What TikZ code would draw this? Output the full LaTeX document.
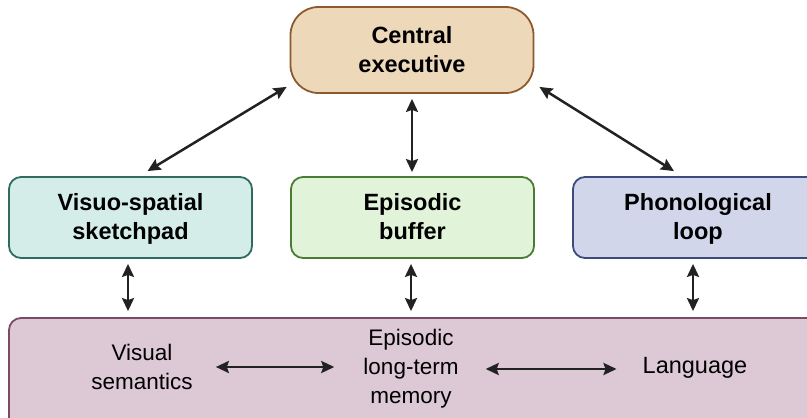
\documentclass[tikz,border=0pt]{standalone}
\usepackage{fontspec}
\setmainfont{Liberation Sans}
\usetikzlibrary{arrows.meta}
\definecolor{exefill}{HTML}{EDD8BA}
\definecolor{exeline}{HTML}{8C5A2E}
\definecolor{vsfill}{HTML}{D4EDE9}
\definecolor{vsline}{HTML}{2F6B5F}
\definecolor{ebfill}{HTML}{E1F3D9}
\definecolor{ebline}{HTML}{4B7C35}
\definecolor{plfill}{HTML}{D1D6EA}
\definecolor{plline}{HTML}{3B4B7B}
\definecolor{memfill}{HTML}{DDC9D6}
\definecolor{memline}{HTML}{7B4B65}
\definecolor{arrgrey}{HTML}{222222}
\def\tallline{\rule{0pt}{24pt}}

\begin{document}
\begin{tikzpicture}[x=1pt,y=-1pt,
  box/.style={draw, line width=1.8pt, rounded corners=12pt, align=center,
    font=\bfseries\fontsize{23.5}{29}\selectfont, minimum width=243pt,
    minimum height=81pt, inner sep=0pt},
  memtext/.style={align=center, font=\fontsize{22.5}{29}\selectfont, inner sep=0pt},
  link/.style={{Stealth[length=13pt,width=12pt,inset=2pt]}-{Stealth[length=13pt,width=12pt,inset=2pt]},
    line width=2.5pt, draw=arrgrey}]
				\useasboundingbox (0,0) rectangle (807,418);
				
				% boxes
				\node[box, draw=exeline, fill=exefill, rounded corners=28pt, minimum height=86pt] (exec) at (412,50) {\tallline Central\\executive\strut};
				\node[box, draw=vsline, fill=vsfill] (vs) at (130.5,217.5) {\tallline Visuo-spatial\\sketchpad\strut};
				\node[box, draw=ebline, fill=ebfill] (eb) at (412.5,217.5) {\tallline Episodic\\buffer\strut};
				\node[box, draw=plline, fill=plfill, minimum width=250pt] (pl) at (698,217.5) {\tallline Phonological\\loop\strut};
				\node[box, draw=memline, fill=memfill, minimum width=815pt, minimum height=112pt] (mem) at (416.5,374) {};
				
				% long-term stores
				\node[memtext] (vis) at (142,367) {Visual\\semantics};
				\node[memtext] (elt) at (411,369) {Episodic\\long-term\\memory};
				\node[memtext, font=\fontsize{23.5}{29}\selectfont] (lang) at (695,368) {Language};
				
				% links
				\draw[link] ([shift={(-3,-7)}]exec.south west) -- ([shift={(17,-5)}]vs.north);
				\draw[link] ([shift={(5,-7)}]exec.south east) -- ([shift={(-24,-5)}]pl.north);
				\draw[link, shorten <=5pt, shorten >=4pt] (exec.south) -- (exec.south |- eb.north);
				
				\draw[link, shorten <=5pt, shorten >=6pt] ([xshift=-2.5pt]vs.south) -- ([xshift=-2.5pt]vs.south |- mem.north);
				\draw[link, shorten <=5pt, shorten >=6pt] ([xshift=-1.5pt]eb.south) -- ([xshift=-1.5pt]eb.south |- mem.north);
				\draw[link, shorten <=5pt, shorten >=6pt] ([xshift=-5pt]pl.south) -- ([xshift=-5pt]pl.south |- mem.north);
				
				\draw[link, shorten <=23pt, shorten >=29pt] (vis.east) -- (vis.east -| elt.west);
				\draw[link, shorten <=27pt, shorten >=26pt] (elt.east) -- (elt.east -| lang.west);
			\end{tikzpicture}
\end{document}
